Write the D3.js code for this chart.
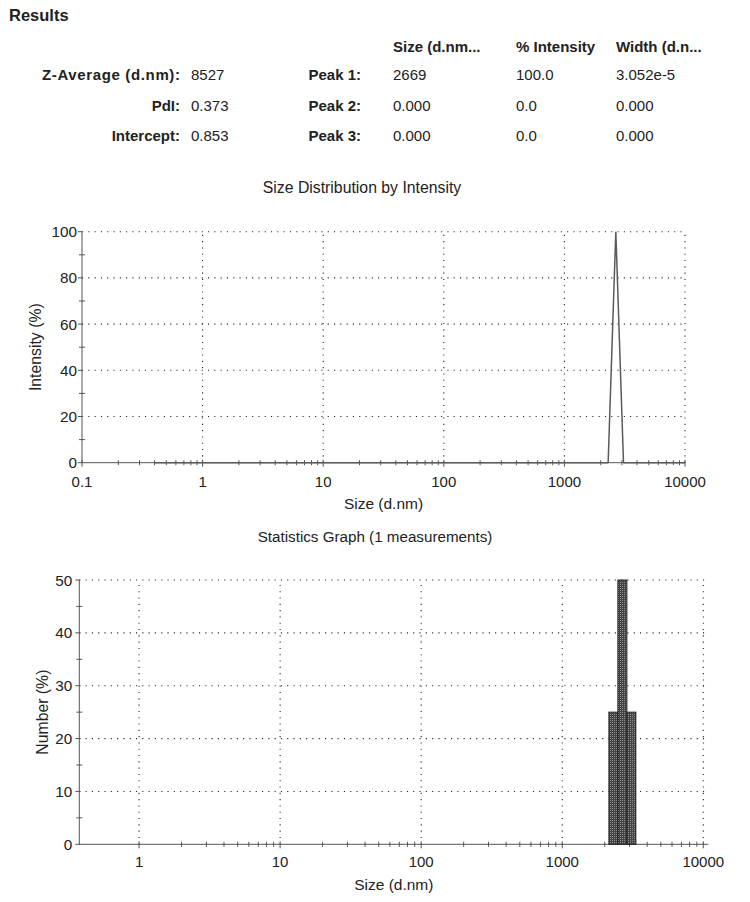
<!DOCTYPE html>
<html>
<head>
<meta charset="utf-8">
<script src="https://cdn.jsdelivr.net/npm/d3@7"></script>
<style>
  html, body { margin: 0; padding: 0; background: #fff; }
  svg { display: block; font-family: "Liberation Sans", Arial, sans-serif; }
</style>
</head>
<body>
<svg id="chart" width="750" height="902"></svg>
<script>
// ---------- data ----------
const headerCols = ["Size (d.nm...", "% Intensity", "Width (d.n..."];
const summaryLabels = ["Z-Average (d.nm):", "PdI:", "Intercept:"];
const summaryValues = ["8527", "0.373", "0.853"];
const peakLabels = ["Peak 1:", "Peak 2:", "Peak 3:"];
const peakSize = ["2669", "0.000", "0.000"];
const peakIntensity = ["100.0", "0.0", "0.0"];
const peakWidth = ["3.052e-5", "0.000", "0.000"];

// Size distribution by intensity (line)
const distSizes = [0.4, 2305, 2669, 3091, 10000];
const distIntensity = [0, 0, 100, 0, 0];

// Statistics graph (bars)
const statSizes = [2305, 2669, 3091];
const statNumber = [25, 50, 25];

// ticks
const intensityTicks = [0, 20, 40, 60, 80, 100];
const intensityMinor = [10, 30, 50, 70, 90];
const numberTicks = [0, 10, 20, 30, 40, 50];
const numberMinor = [5, 15, 25, 35, 45];
const sizeTicksTop = [0.1, 1, 10, 100, 1000, 10000];
const sizeTicksBottom = [1, 10, 100, 1000, 10000];
const minorMultipliers = [2, 3, 4, 5, 6, 7, 8, 9];

// ---------- drawing ----------
const svg = d3.select("#chart");
const textColor = "#222";
const axisColor = "#555";

// Results table
svg.append("text").attr("x", 9).attr("y", 21).attr("font-size", 16.5)
  .attr("font-weight", "bold").attr("fill", textColor).text("Results");

const colX = [393, 516, 616];
headerCols.forEach((h, i) => {
  svg.append("text").attr("x", colX[i]).attr("y", 52).attr("font-size", 15)
    .attr("font-weight", "bold").attr("fill", textColor).text(h);
});
const rowY = [80, 110.5, 140.5];
rowY.forEach((y, i) => {
  const lab = svg.append("text").attr("x", 180).attr("y", y).attr("font-size", 15)
    .attr("font-weight", "bold").attr("text-anchor", "end").attr("fill", textColor).text(summaryLabels[i]);
  if (i === 0) lab.attr("textLength", 138).attr("lengthAdjust", "spacing");
  svg.append("text").attr("x", 191).attr("y", y).attr("font-size", 15)
    .attr("fill", textColor).text(summaryValues[i]);
  svg.append("text").attr("x", 361).attr("y", y).attr("font-size", 15)
    .attr("font-weight", "bold").attr("text-anchor", "end").attr("fill", textColor).text(peakLabels[i]);
  [peakSize[i], peakIntensity[i], peakWidth[i]].forEach((v, j) => {
    svg.append("text").attr("x", colX[j]).attr("y", y).attr("font-size", 15)
      .attr("fill", textColor).text(v);
  });
});

function minorLogTicks(decades) {
  const out = [];
  decades.forEach(d => minorMultipliers.forEach(m => out.push(d * m)));
  return out;
}

function drawPanel(opt) {
  const { x, y, xTicks, xMinor, yTicks, yMinor } = opt;
  const g = svg.append("g");
  const x0 = x.range()[0], x1 = x.range()[1];
  const y0 = y.range()[0], y1 = y.range()[1];

  // grid
  const grid = g.append("g").attr("stroke", "#222").attr("stroke-width", 1.1)
    .attr("stroke-dasharray", "1.1,5.2");
  grid.selectAll("line.h").data(yTicks.filter(v => v !== 0)).join("line")
    .attr("x1", x0).attr("x2", x1).attr("y1", d => y(d)).attr("y2", d => y(d));
  grid.selectAll("line.v").data(xTicks.filter(v => Math.abs(x(v) - x0) > 1)).join("line")
    .attr("x1", d => x(d)).attr("x2", d => x(d)).attr("y1", y0).attr("y2", y1);

  // axes
  const ax = g.append("g").attr("stroke", axisColor).attr("stroke-width", 1);
  ax.append("line").attr("x1", x0).attr("x2", x0).attr("y1", y0).attr("y2", y1);
  ax.append("line").attr("x1", x0).attr("x2", x1).attr("y1", y0).attr("y2", y0);
  // y ticks
  ax.selectAll("line.ym").data(yTicks).join("line")
    .attr("x1", x0 - 4).attr("x2", x0 + 1).attr("y1", d => y(d)).attr("y2", d => y(d));
  ax.selectAll("line.yn").data(yMinor).join("line").attr("class", "yn")
    .attr("x1", x0 - 3).attr("x2", x0 + 3).attr("y1", d => y(d)).attr("y2", d => y(d));
  // x ticks
  ax.selectAll("line.xm").data(xTicks).join("line").attr("class", "xm")
    .attr("x1", d => x(d)).attr("x2", d => x(d)).attr("y1", y0 - 3).attr("y2", y0 + 4);
  ax.selectAll("line.xn").data(xMinor).join("line").attr("class", "xn")
    .attr("x1", d => x(d)).attr("x2", d => x(d)).attr("y1", y0 - 2.5).attr("y2", y0 + 2.5);

  // labels
  g.selectAll("text.yl").data(yTicks).join("text").attr("class", "yl")
    .attr("x", x0 - opt.yLabelGap).attr("y", d => y(d)).attr("dy", "0.36em")
    .attr("text-anchor", "end").attr("font-size", 15.3).attr("fill", textColor)
    .text(d => d);
  g.selectAll("text.xl").data(xTicks).join("text").attr("class", "xl")
    .attr("x", d => x(d)).attr("y", opt.xLabelY)
    .attr("text-anchor", "middle").attr("font-size", 15).attr("fill", textColor)
    .text(d => d);

  g.append("text").attr("x", opt.titleX).attr("y", opt.titleY).attr("text-anchor", "middle")
    .attr("font-size", opt.titleSize).attr("fill", textColor).text(opt.title);
  g.append("text").attr("x", (x0 + x1) / 2).attr("y", opt.xTitleY).attr("text-anchor", "middle")
    .attr("font-size", 15.5).attr("fill", textColor).text("Size (d.nm)");
  g.append("text").attr("transform", `translate(${opt.yTitleX},${(y0 + y1) / 2}) rotate(-90)`)
    .attr("dy", "0.36em").attr("text-anchor", "middle")
    .attr("font-size", 15.8).attr("fill", textColor).text(opt.yTitle);
  return g;
}

// ---- Top: Size Distribution by Intensity ----
const xTop = d3.scaleLog().domain([0.1, 10000]).range([82, 685]);
const yTop = d3.scaleLinear().domain([0, 100]).range([462.7, 231.7]);
const gTop = drawPanel({
  x: xTop, y: yTop, xTicks: sizeTicksTop, xMinor: minorLogTicks([0.1, 1, 10, 100, 1000]),
  yTicks: intensityTicks, yMinor: intensityMinor,
  yLabelGap: 5, xLabelY: 487, title: "Size Distribution by Intensity", titleX: 362, titleY: 193,
  titleSize: 15.8, xTitleY: 509, yTitleX: 35, yTitle: "Intensity (%)"
});
const lineData = distSizes.map((s, i) => [s, distIntensity[i]]);
gTop.append("path").datum(lineData)
  .attr("fill", "none").attr("stroke", "#5a5a5a").attr("stroke-width", 1.5)
  .attr("stroke-linejoin", "bevel")
  .attr("d", d3.line().x(d => xTop(d[0])).y(d => yTop(d[1])));

// ---- Bottom: Statistics Graph ----
const xBot = d3.scaleLog().domain([0.377, 10850]).range([79.3, 708.3]);
const yBot = d3.scaleLinear().domain([0, 50]).range([844.3, 580]);

const defs = svg.append("defs");
const pat = defs.append("pattern").attr("id", "mesh").attr("patternUnits", "userSpaceOnUse")
  .attr("width", 2).attr("height", 2);
pat.append("rect").attr("width", 2).attr("height", 2).attr("fill", "#444");
pat.append("rect").attr("width", 1).attr("height", 1).attr("fill", "#8e8e8e");

const gBot = drawPanel({
  x: xBot, y: yBot, xTicks: sizeTicksBottom, xMinor: minorLogTicks([1, 10, 100, 1000]),
  yTicks: numberTicks, yMinor: numberMinor,
  yLabelGap: 7, xLabelY: 867, title: "Statistics Graph (1 measurements)", titleX: 375, titleY: 542,
  titleSize: 15.2, xTitleY: 890, yTitleX: 42, yTitle: "Number (%)"
});
const ratio = Math.sqrt(statSizes[1] / statSizes[0]);
gBot.selectAll("rect.bar").data(statSizes).join("rect").attr("class", "bar")
  .attr("x", d => xBot(d / ratio))
  .attr("width", d => xBot(d * ratio) - xBot(d / ratio))
  .attr("y", (d, i) => yBot(statNumber[i]))
  .attr("height", (d, i) => yBot(0) - yBot(statNumber[i]))
  .attr("fill", "url(#mesh)").attr("stroke", "#222").attr("stroke-width", 1);
</script>
</body>
</html>
